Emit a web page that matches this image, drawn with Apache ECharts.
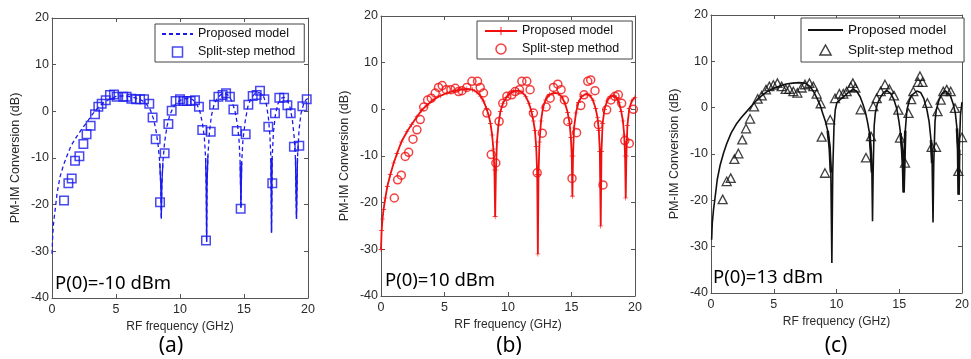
<!DOCTYPE html>
<html>
<head>
<meta charset="utf-8">
<script src="https://cdn.jsdelivr.net/npm/echarts@6/dist/echarts.min.js"></script>
<style>html,body{margin:0;padding:0;background:#fff;}#chart{width:971px;height:359px;}</style>
</head>
<body>
<div id="chart"></div>
<script>
// ---------------- DATA ----------------
const xTitle = 'RF frequency (GHz)';
const yTitle = 'PM-IM Conversion (dB)';
const legendNames = ['Proposed model', 'Split-step method'];
const panelLabels = ['(a)', '(b)', '(c)'];
const powerLabels = ['P(0)=-10 dBm', 'P(0)=10 dBm', 'P(0)=13 dBm'];

// (a) P(0) = -10 dBm : proposed model [GHz, dB]
const modelA = [[0,-30.5],[0.05,-27],[0.12,-24],[0.23,-21.5],[0.4,-17.5],[0.63,-14],[0.9,-11.5],[1.15,-9.7],[1.5,-7.3],[1.93,-5.4],[2.4,-3.5],[2.84,-1.9],[3.2,-0.5],[3.6,0.8],[4.0,1.8],[4.5,2.6],[5.0,3.2],[5.5,3.3],[6.0,3.2],[6.5,2.9],[7.0,2.4],[7.4,1.5],[7.7,0.2],[7.95,-1.8],[8.15,-4.5],[8.3,-7.5],[8.42,-11],[8.5,-16],[8.54,-23],[8.58,-16],[8.66,-11],[8.8,-6.5],[9.0,-3],[9.2,-0.8],[9.5,1.0],[9.8,2.0],[10.2,2.6],[10.6,2.8],[11.0,2.5],[11.3,1.6],[11.55,0],[11.75,-2.5],[11.9,-5.5],[12.0,-10],[12.05,-16],[12.08,-28],[12.11,-16],[12.18,-9.5],[12.3,-4.5],[12.45,-1],[12.65,1.3],[12.9,2.8],[13.2,3.6],[13.5,3.8],[13.8,3.4],[14.05,2.2],[14.3,0],[14.5,-3],[14.62,-6.5],[14.7,-11],[14.76,-20.7],[14.82,-11],[14.92,-6],[15.1,-2],[15.3,1],[15.55,2.8],[15.85,3.8],[16.2,4.0],[16.5,3.4],[16.75,1.5],[16.9,-1.2],[17.02,-5],[17.1,-10],[17.15,-26],[17.2,-10],[17.3,-4.5],[17.45,-0.8],[17.65,1.6],[17.9,2.8],[18.15,3.0],[18.4,2.3],[18.6,0.8],[18.78,-1.8],[18.92,-5.5],[19.02,-10],[19.1,-23],[19.18,-10],[19.3,-4],[19.45,-0.5],[19.65,1.5],[19.85,2.5],[20,2.8]];
// (a) split-step method
const splitA = [[0.94,-19.1],[1.28,-15.4],[1.54,-14.4],[1.8,-10.6],[2.14,-9.6],[2.45,-7],[2.7,-4.9],[3.02,-3.1],[3.36,-0.6],[3.62,1.0],[3.88,1.6],[4.2,2.4],[4.53,3.5],[4.84,3.6],[5.05,3.1],[5.57,3.1],[5.83,3.1],[6.2,2.7],[6.56,2.6],[6.88,2.6],[7.19,2.6],[7.6,1.6],[7.86,-1.3],[8.1,-6],[8.44,-19.5],[8.8,-9],[9.09,-2.7],[9.35,0.1],[9.66,2.2],[10.0,2.6],[10.26,2.2],[10.52,2.2],[10.83,2.2],[11.17,2.4],[11.48,1.0],[11.74,-4],[12.03,-27.7],[12.4,-4.4],[12.66,1.4],[13.0,3.1],[13.33,3.5],[13.6,3.9],[13.9,3.1],[14.17,0.4],[14.43,-4.2],[14.74,-20.9],[15.13,-4.9],[15.34,1.4],[15.68,3.3],[15.99,3.5],[16.25,4.4],[16.59,2.6],[16.9,-3.3],[17.21,-15.4],[17.42,-0.4],[17.76,2.9],[18.13,2.9],[18.39,1.3],[18.65,-0.4],[18.9,-7.6],[19.32,-7.4],[19.56,1.1],[19.9,2.6]];

// (b) P(0) = 10 dBm : proposed model
const modelB = [[0,-30],[0.05,-26],[0.12,-23.5],[0.2,-21.5],[0.34,-19],[0.5,-16.5],[0.73,-14],[1.0,-11.5],[1.26,-9.5],[1.6,-7],[2.04,-4.8],[2.4,-3.3],[2.83,-1.6],[3.2,-0.2],[3.62,0.9],[4.1,2.0],[4.67,2.9],[5.2,3.5],[5.71,3.9],[6.2,4.2],[6.76,4.4],[7.2,4.2],[7.55,3.7],[7.85,2.8],[8.07,1.8],[8.3,0.2],[8.47,-1.2],[8.62,-3],[8.75,-5.5],[8.85,-8.5],[8.93,-13],[8.99,-23],[9.05,-13],[9.13,-7],[9.25,-3.2],[9.4,-0.5],[9.6,1.3],[9.85,2.5],[10.1,3.3],[10.45,3.9],[10.8,4.0],[11.1,3.7],[11.4,2.8],[11.65,1.3],[11.85,-0.5],[12.0,-2.5],[12.12,-4.5],[12.22,-8],[12.3,-14],[12.35,-31],[12.4,-14],[12.48,-7],[12.6,-2.5],[12.75,0.3],[12.95,2.0],[13.25,3.1],[13.6,3.5],[13.95,3.4],[14.25,2.6],[14.5,1.2],[14.7,-0.7],[14.85,-3],[14.95,-6],[15.02,-10],[15.07,-18.6],[15.12,-10],[15.2,-4],[15.35,-0.8],[15.55,1.5],[15.8,2.8],[16.15,3.3],[16.45,3.0],[16.7,1.9],[16.9,0.2],[17.05,-1.8],[17.15,-4.5],[17.23,-9],[17.3,-25],[17.36,-9],[17.45,-3],[17.6,0],[17.8,1.8],[18.05,2.7],[18.3,3.0],[18.55,2.5],[18.75,1.4],[18.92,-0.5],[19.05,-2.5],[19.15,-5.5],[19.22,-10],[19.27,-19],[19.32,-10],[19.4,-3.5],[19.55,0.2],[19.75,1.8],[20,2.6]];
// (b) split-step method
const splitB = [[1.05,-19.0],[1.31,-15.1],[1.6,-14.1],[1.91,-10.1],[2.18,-9.2],[2.52,-6.4],[2.83,-4.4],[3.09,-2.2],[3.36,0.5],[3.67,2.0],[3.96,2.4],[4.27,3.5],[4.53,4.7],[4.82,5.1],[5.14,4.2],[5.5,4.2],[5.85,4.5],[6.11,3.8],[6.37,4.0],[6.76,4.7],[7.16,6.0],[7.6,6.0],[7.81,4.7],[8.07,3.5],[8.34,-0.8],[8.68,-9.7],[9.04,-11.5],[9.3,-2.6],[9.59,1.3],[9.91,2.8],[10.3,3.1],[10.56,3.8],[10.9,4.2],[11.09,6.0],[11.48,6.0],[11.74,4.2],[12.0,-0.8],[12.3,-13.6],[12.7,-5.1],[13.0,0.5],[13.32,2.4],[13.58,4.7],[13.92,5.4],[14.18,4.2],[14.44,2.0],[14.71,-2.6],[15.04,-14.8],[15.4,-5.0],[15.73,0.8],[15.99,3.1],[16.28,6.0],[16.51,6.3],[16.85,4.0],[17.12,-3.3],[17.48,-16.2],[17.77,-0.1],[18.11,2.0],[18.43,2.8],[18.69,3.1],[18.95,1.3],[19.2,-6.7],[19.55,-7.3],[19.87,0.0]];

// (c) P(0) = 13 dBm : proposed model
const modelC = [[0.05,-28.5],[0.1,-25],[0.2,-22],[0.32,-19.5],[0.5,-15.5],[0.72,-12.5],[1.0,-9.8],[1.25,-7.8],[1.6,-5.5],[2.05,-3.4],[2.45,-2],[2.85,-0.8],[3.2,0.3],[3.64,1.6],[4.0,2.5],[4.44,3.4],[5.0,4.2],[5.5,4.7],[6.0,5.1],[6.5,5.3],[7.0,5.4],[7.5,5.3],[7.9,4.6],[8.16,3.5],[8.45,2.0],[8.7,0.5],[8.9,-1.2],[9.1,-2.8],[9.3,-5],[9.45,-8.5],[9.55,-14],[9.63,-33.5],[9.7,-14],[9.8,-4],[9.9,-0.5],[10.03,1.1],[10.3,1.8],[10.56,2.3],[10.9,3.2],[11.3,3.9],[11.6,3.6],[11.89,2.3],[12.1,0.8],[12.29,-0.8],[12.45,-2.8],[12.63,-5.5],[12.75,-10],[12.82,-14],[12.87,-24.5],[12.92,-14],[13.0,-4],[13.09,-1.2],[13.25,0.8],[13.48,2.1],[13.75,3.3],[14.02,3.7],[14.3,3.1],[14.55,1.9],[14.81,-0.3],[14.98,-3],[15.1,-5.5],[15.22,-9],[15.3,-13],[15.35,-18.3],[15.4,-13],[15.48,-5],[15.61,-0.5],[15.8,1.5],[16.01,2.7],[16.4,3.6],[16.7,3.3],[16.95,2.0],[17.2,-0.4],[17.38,-3],[17.53,-7],[17.62,-12],[17.69,-24.8],[17.75,-12],[17.85,-3],[17.95,-0.5],[18.15,1.5],[18.4,3.0],[18.7,3.6],[19.07,2.6],[19.3,0.8],[19.47,-1.2],[19.6,-4.5],[19.68,-9],[19.73,-18.8],[19.78,-9],[19.88,-1.5],[20,1.2]];
// (c) split-step method
const splitC = [[0.93,-19.8],[1.25,-15.9],[1.57,-15.2],[1.86,-11.1],[2.18,-9.9],[2.49,-6.9],[2.79,-4.5],[3.11,-2.4],[3.43,0.2],[3.72,1.9],[4.04,2.6],[4.38,3.9],[4.65,4.6],[4.97,4.9],[5.29,5.3],[5.63,4.6],[5.95,4.0],[6.24,4.0],[6.56,3.5],[6.88,3.2],[7.22,4.3],[7.49,5.0],[7.84,5.3],[8.15,4.6],[8.42,3.0],[8.74,0.9],[8.82,-6.3],[9.08,-14.1],[9.5,-2.6],[9.88,2.0],[10.23,3.0],[10.54,3.0],[10.81,3.5],[11.13,4.5],[11.3,5.3],[11.5,4.3],[11.93,-0.4],[12.35,-10.8],[12.75,-6.2],[12.93,0.3],[13.2,2.0],[13.52,3.5],[13.86,5.0],[14.21,4.0],[14.58,2.6],[14.93,-0.5],[15.06,-6.5],[15.46,-11.9],[15.74,-1.2],[15.95,1.8],[16.12,3.5],[16.5,5.5],[16.65,6.8],[16.85,5.5],[17.24,1.0],[17.58,-8.5],[17.93,-8.5],[18.05,-0.8],[18.3,1.7],[18.51,3.5],[18.78,3.9],[19.1,3.5],[19.44,-0.1],[19.71,-13.7],[20.0,-6.4]];

// ---------------- LAYOUT / STYLE ----------------
const TXT = "'Liberation Sans', Arial, sans-serif";
const grids = [
  {left: 52, top: 18, width: 256, height: 280},
  {left: 381, top: 16, width: 254, height: 280},
  {left: 711, top: 15, width: 251, height: 278}
];
const colors = ['#1a1aee', '#f01010', '#111111'];
const tags = ['a', 'b', 'c'];
const axisCol = '#555';

const xAxes = [], yAxes = [], series = [], legends = [], graphics = [];

grids.forEach((g, i) => {
  g.outerBoundsMode = 'none';
  xAxes.push({
    gridIndex: i, type: 'value', min: 0, max: 20, interval: 5, position: 'bottom',
    axisLine: {show: true, onZero: false, lineStyle: {color: axisCol, width: 1}},
    axisTick: {show: true, inside: true, length: 4, lineStyle: {color: axisCol}},
    axisLabel: {color: '#2a2a2a', fontSize: 12.5, fontFamily: TXT, margin: 5},
    splitLine: {show: false},
    name: xTitle, nameLocation: 'middle', nameGap: 20,
    nameTextStyle: {color: '#2a2a2a', fontSize: 12, fontFamily: TXT}
  });
  xAxes.push({
    gridIndex: i, type: 'value', min: 0, max: 20, interval: 5, position: 'top',
    axisLine: {show: true, onZero: false, lineStyle: {color: axisCol, width: 1}},
    axisTick: {show: true, inside: true, length: 4, lineStyle: {color: axisCol}},
    axisLabel: {show: false}, splitLine: {show: false}
  });
  yAxes.push({
    gridIndex: i, type: 'value', min: -40, max: 20, interval: 10, position: 'left',
    axisLine: {show: true, onZero: false, lineStyle: {color: axisCol, width: 1}},
    axisTick: {show: true, inside: true, length: 4, lineStyle: {color: axisCol}},
    axisLabel: {color: '#2a2a2a', fontSize: 12.5, fontFamily: TXT, margin: 3},
    splitLine: {show: false},
    name: yTitle, nameLocation: 'middle', nameGap: 30,
    nameTextStyle: {color: '#2a2a2a', fontSize: 12.5, fontFamily: TXT}
  });
  yAxes.push({
    gridIndex: i, type: 'value', min: -40, max: 20, interval: 10, position: 'right',
    axisLine: {show: true, onZero: false, lineStyle: {color: axisCol, width: 1}},
    axisTick: {show: true, inside: true, length: 4, lineStyle: {color: axisCol}},
    axisLabel: {show: false}, splitLine: {show: false}
  });
});

const nm = (k, i) => legendNames[k] + ' #' + tags[i];
const plusPath = 'path://M0,4.4H10V5.6H0Z M4.4,0H5.6V10H4.4Z';
const squarePath = 'path://M0,0H10V10H0Z';
const trianglePath = 'path://M5,0L10,9H0Z';

// (a) blue dashed model
series.push({
  name: nm(0, 0), type: 'line', xAxisIndex: 0, yAxisIndex: 0, data: modelA,
  symbol: 'none',
  lineStyle: {color: colors[0], width: 1.3, type: [4, 3]}, itemStyle: {color: colors[0]}, z: 2
});
// densely sampled (solid looking) bottoms of the nulls, from the same model values
series.push({
  name: 'nullsA', type: 'line', xAxisIndex: 0, yAxisIndex: 0,
  data: modelA.map(p => (p[0] > 5 && p[1] < -9) ? p : [p[0], null]),
  symbol: 'none', connectNulls: false,
  lineStyle: {color: colors[0], width: 1.3}, z: 2
});
series.push({
  name: nm(1, 0), type: 'scatter', xAxisIndex: 0, yAxisIndex: 0, data: splitA,
  symbol: squarePath, symbolSize: 8.5, clip: false,
  itemStyle: {color: 'rgba(0,0,0,0)', borderColor: colors[0], borderWidth: 1.5}, z: 3
});
// (b) red model with + markers
series.push({
  name: nm(0, 1), type: 'line', xAxisIndex: 2, yAxisIndex: 2, data: modelB,
  symbol: plusPath, symbolSize: 5, showSymbol: true, showAllSymbol: true,
  lineStyle: {color: colors[1], width: 1.8}, itemStyle: {color: colors[1]}, z: 2
});
series.push({
  name: nm(1, 1), type: 'scatter', xAxisIndex: 2, yAxisIndex: 2, data: splitB,
  symbol: 'circle', symbolSize: 8, clip: false,
  itemStyle: {color: 'rgba(0,0,0,0)', borderColor: colors[1], borderWidth: 1.5}, z: 3
});
// (c) black model
series.push({
  name: nm(0, 2), type: 'line', xAxisIndex: 4, yAxisIndex: 4, data: modelC,
  symbol: 'none',
  lineStyle: {color: colors[2], width: 1.6}, itemStyle: {color: colors[2]}, z: 2
});
// densely sampled (thick looking) parts of the nulls in (c), from the same model values
series.push({
  name: 'nullsC', type: 'line', xAxisIndex: 4, yAxisIndex: 4,
  data: modelC.map(p => (p[0] > 5 && p[1] < -4 && p[1] > -20) ? p : [p[0], null]),
  symbol: 'none', connectNulls: false,
  lineStyle: {color: colors[2], width: 2.6}, z: 2
});
series.push({
  name: nm(1, 2), type: 'scatter', xAxisIndex: 4, yAxisIndex: 4, data: splitC,
  symbol: trianglePath, symbolSize: [9, 8.5], clip: false,
  itemStyle: {color: 'rgba(0,0,0,0)', borderColor: colors[2], borderWidth: 1.3}, z: 3
});

const legendPos = [
  {left: 155, top: 24, padding: [2, 9, 2, 6], itemWidth: 31, fontSize: 12.5, lh: 16},
  {left: 477, top: 21, padding: [2, 13, 2, 7], itemWidth: 32, fontSize: 12.5, lh: 16},
  {left: 801, top: 18, padding: [3, 11, 3, 6], itemWidth: 35, fontSize: 13.5, lh: 18}
];
const legendIcons = [squarePath, 'circle', trianglePath];
legendPos.forEach((L, i) => {
  legends.push({
    orient: 'vertical', left: L.left, top: L.top, padding: L.padding,
    itemWidth: L.itemWidth, itemHeight: 10, itemGap: 2,
    borderColor: '#444', borderWidth: 1, backgroundColor: '#fff',
    selectedMode: false,
    textStyle: {fontSize: L.fontSize, fontFamily: TXT, color: '#111', lineHeight: L.lh},
    formatter: n => n.replace(/ #[abc]$/, ''),
    data: [
      i === 1 ? {name: nm(0, i)} : {name: nm(0, i), itemStyle: {color: 'rgba(0,0,0,0)', borderWidth: 0}},
      {name: nm(1, i), icon: legendIcons[i],
       itemStyle: {color: 'rgba(0,0,0,0)', borderColor: colors[i], borderWidth: 1.5}}
    ]
  });
});

const powerPos = [[55, 284], [385, 281], [713, 278]];
const captionX = [171, 509, 836];
powerPos.forEach((p, i) => {
  graphics.push({type: 'text', x: p[0], y: p[1], z: 10,
    style: {text: powerLabels[i], fontSize: 18.5, fontFamily: "'Noto Sans', sans-serif", fill: '#000', align: 'left', verticalAlign: 'middle'}});
  graphics.push({type: 'text', x: captionX[i], y: 346, z: 10,
    style: {text: panelLabels[i], fontSize: 21, fontFamily: "'Noto Sans', sans-serif", fill: '#000', align: 'center', verticalAlign: 'middle'}});
});

const chart = echarts.init(document.getElementById('chart'), null, {renderer: 'canvas'});
chart.setOption({
  animation: false,
  backgroundColor: '#fff',
  grid: grids, xAxis: xAxes, yAxis: yAxes,
  legend: legends, series: series, graphic: graphics
});
</script>
</body>
</html>
